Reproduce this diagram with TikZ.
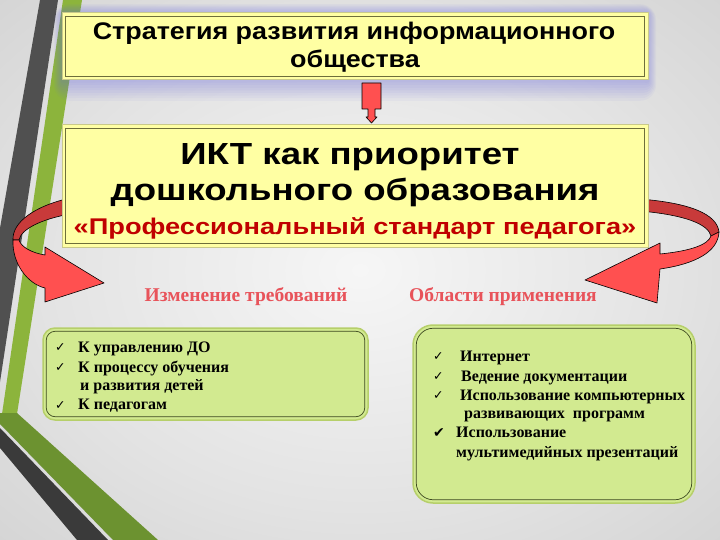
\documentclass[tikz,border=0pt]{standalone}
\usepackage{fontspec}
\setmainfont{Liberation Serif}
\newfontfamily\arialw[FakeStretch=1.2]{Liberation Sans}
\newfontfamily\arialh[FakeStretch=1.12]{Liberation Sans}
\newfontfamily\dejavuf{DejaVu Sans}
\usetikzlibrary{calc}
\definecolor{bgin}{HTML}{F6F6F6}
\definecolor{bgmid}{HTML}{E3E3E3}
\definecolor{bgout}{HTML}{C6C6C6}
\definecolor{stripegray}{HTML}{505050}
\definecolor{stripedark}{HTML}{3A3A3A}
\definecolor{stripegreen}{HTML}{8CB43C}
\definecolor{stripegreend}{HTML}{6C9230}
\definecolor{boxyellow}{HTML}{FFFFA3}
\definecolor{boxedge}{HTML}{C9C98A}
\definecolor{boxinner}{HTML}{6E6E3A}
\definecolor{glowc}{HTML}{6A6AE0}
\definecolor{arrowred}{HTML}{FF5050}
\definecolor{arrowdark}{HTML}{C83A3A}
\definecolor{titlered}{HTML}{C00000}
\definecolor{labelred}{HTML}{E8535A}
\definecolor{gfill}{HTML}{D2EA90}
\definecolor{gedge}{HTML}{B6CF6A}
\definecolor{ginner}{HTML}{3E4A20}
\pgfdeclareradialshading{bgshade}{\pgfpoint{0bp}{0bp}}{color(0bp)=(bgin); color(22bp)=(bgmid); color(50bp)=(bgout); color(80bp)=(bgout)}
\begin{document}
\begin{tikzpicture}[x=1pt,y=-1pt,
  ybox/.style={draw=boxedge, line width=1pt, fill=boxyellow, inner sep=0pt},
  innerframe/.style={draw=boxinner, line width=0.8pt},
  gbox/.style={draw=gedge, line width=1.5pt, fill=gfill, inner sep=0pt},
  ginnerframe/.style={draw=ginner, line width=0.7pt},
  redarrow/.style={fill=arrowred, draw=black, line width=0.6pt, line join=round},
  darkarrow/.style={fill=arrowdark, draw=black, line width=0.6pt, line join=round},
  headtext/.style={inner sep=0pt, font=\arialh\bfseries\fontsize{24}{27}\selectfont},
  bigtext/.style={inner sep=0pt, font=\arialw\bfseries\fontsize{30.5}{34}\selectfont},
  redtext/.style={inner sep=0pt, font=\arialw\bfseries\fontsize{22.7}{27}\selectfont, text=titlered},
  lbl/.style={font=\bfseries\fontsize{19.5}{22}\selectfont, text=labelred, inner sep=0pt},
  item/.style={font=\bfseries\fontsize{16}{18}\selectfont, anchor=base west, inner sep=0pt},
  chk/.style={font=\dejavuf\fontsize{12.5}{13}\selectfont, anchor=base west, inner sep=0pt},
  bigchk/.style={font=\dejavuf\fontsize{14}{15}\selectfont, anchor=base west, inner sep=0pt}
]
\useasboundingbox (0,0) rectangle (720,540);
% background
\shade[shading=bgshade] (0,0) rectangle (720,540);
% left decoration stripes
\fill[stripegray] (40,0) -- (58,0) -- (0,382) -- (0,228) -- cycle;
\fill[stripegreen] (63,0) -- (82,0) -- (17,414) -- (2,414) -- cycle;
\fill[stripegreend] (2,413) -- (17,413) -- (158,540) -- (113,540) -- (0,424) -- (0,413) -- cycle;
\fill[stripedark] (0,428) -- (108,540) -- (77,540) -- (0,448) -- cycle;
% glow of the top box
\foreach \k in {2,4,...,16}{
  \fill[glowc, opacity=0.05, rounded corners=\k pt] (62-0.5*\k,13-0.55*\k) rectangle (648+0.5*\k,80+1.3*\k);
}
% curved arrows (behind the main box)
\draw[darkarrow] (70,198) .. controls (35,206) and (12,222) .. (13,240) -- (19,240) .. controls (21,229) and (42,219) .. (70,214) -- cycle;
\draw[redarrow] (13,240) .. controls (12,264) and (28,284) .. (45,288) -- (45,302) -- (104,283) -- (45,247) -- (45,255) .. controls (32,253) and (21,247) .. (19,240) -- cycle;
\draw[darkarrow] (640,199) .. controls (690,203) and (717,214) .. (719,232) -- (711,236) .. controls (708,224) and (685,215) .. (640,211) -- cycle;
\draw[redarrow] (719,232) .. controls (718,252) and (695,264) .. (660,269) -- (657,303) -- (585,280) -- (660,243) -- (660,254) .. controls (690,251) and (708,245) .. (711,236) -- cycle;
% top box
\node[ybox, minimum width=586pt, minimum height=67pt] (b1) at (355,46.5) {};
\draw[innerframe] ($(b1.north west)+(4,4)$) rectangle ($(b1.south east)+(-4,-4)$);
\node[headtext] (h1) at (354,33) {Стратегия развития информационного};
\node[headtext] (h2) at (355,61) {общества};
% main box
\node[ybox, minimum width=586pt, minimum height=122pt] (b2) at (355,186) {};
\draw[innerframe] ($(b2.north west)+(4,4)$) rectangle ($(b2.south east)+(-4,-4)$);
\node[bigtext] (t1) at (350,157) {ИКТ как приоритет};
\node[bigtext] (t2) at (355,192) {дошкольного образования};
\node[redtext] (t3) at (355,228) {«Профессиональный стандарт педагога»};
% down block arrow between the boxes
\coordinate (da) at (371.5,83);
\draw[redarrow] ($(da)+(-9.5,0)$) -- ($(da)+(9.5,0)$) -- ($(da)+(9.5,26)$) -- ($(da)+(3.5,26)$) -- ($(da)+(3.5,34)$) -- ($(da)+(5.5,34)$) -- ($(da)+(0,40)$) -- ($(da)+(-5.5,34)$) -- ($(da)+(-3.5,34)$) -- ($(da)+(-3.5,26)$) -- ($(da)+(-9.5,26)$) -- cycle;
% labels
\node[lbl] (l1) at (246,297) {Изменение требований};
\node[lbl] (l2) at (503,297) {Области применения};
% left green box
\node[gbox, rounded corners=12pt, minimum width=325pt, minimum height=92pt] (g1) at (205.5,374) {};
\draw[ginnerframe, rounded corners=9pt] ($(g1.north west)+(4,4)$) rectangle ($(g1.south east)+(-4,-4)$);
\node[chk] (c11) at (55,351) {✓};
\node[item] (i11) at (78,352) {К управлению ДО};
\node[chk] (c12) at (55,371) {✓};
\node[item] (i12) at (78,372) {К процессу обучения};
\node[item] (i13) at (80,390.5) {и развития детей};
\node[chk] (c14) at (55,409) {✓};
\node[item] (i14) at (78,409.5) {К педагогам};
% right green box
\node[gbox, rounded corners=20pt, minimum width=282pt, minimum height=178pt] (g2) at (554,414) {};
\draw[ginnerframe, rounded corners=17pt] ($(g2.north west)+(4,4)$) rectangle ($(g2.south east)+(-4,-4)$);
\node[chk] (c21) at (433,360) {✓};
\node[item] (i21) at (460,361) {Интернет};
\node[chk] (c22) at (433,380) {✓};
\node[item] (i22) at (461,381) {Ведение документации};
\node[chk] (c23) at (433,399) {✓};
\node[item] (i23) at (460,400) {Использование компьютерных};
\node[item] (i24) at (464,418.5) {развивающих\ \ программ};
\node[bigchk] (c25) at (433,437) {✔};
\node[item] (i25) at (456,437.5) {Использование};
\node[item] (i26) at (456,457) {мультимедийных презентаций};
\end{tikzpicture}
\end{document}
